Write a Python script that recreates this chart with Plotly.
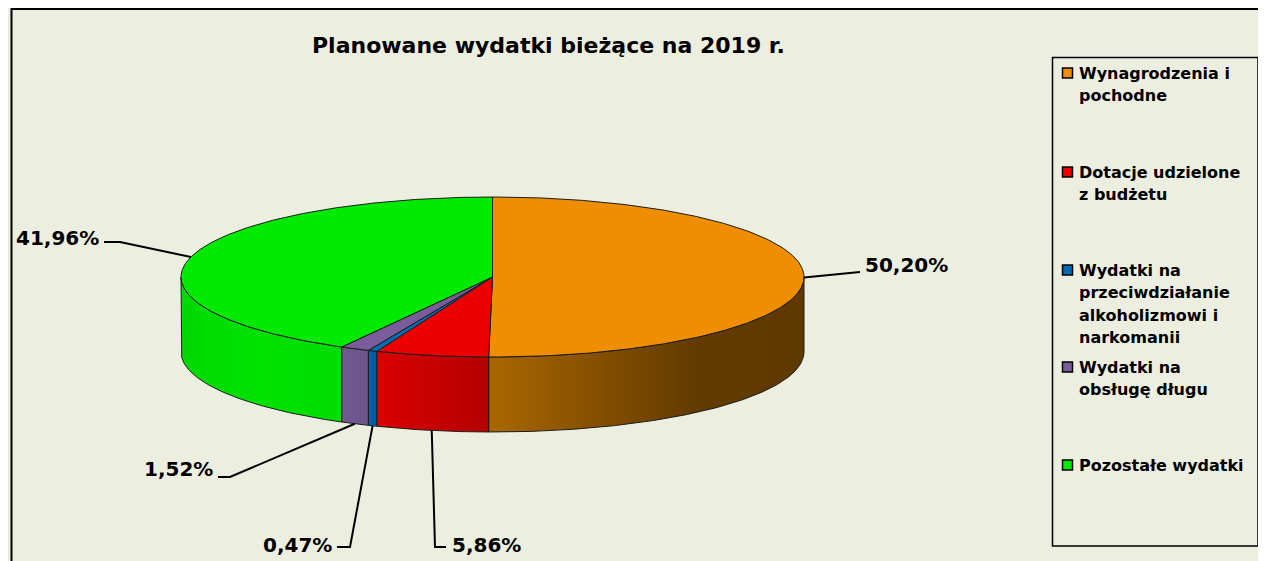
import numpy as np
import plotly.graph_objects as go

# ---------------- data ----------------
categories = [
    "Wynagrodzenia i pochodne",
    "Dotacje udzielone z budżetu",
    "Wydatki na przeciwdziałanie alkoholizmowi i narkomanii",
    "Wydatki na obsługę długu",
    "Pozostałe wydatki",
]
legend_lines = [
    ["Wynagrodzenia i", "pochodne"],
    ["Dotacje udzielone", "z budżetu"],
    ["Wydatki na", "przeciwdziałanie", "alkoholizmowi i", "narkomanii"],
    ["Wydatki na", "obsługę długu"],
    ["Pozostałe wydatki"],
]
shares = [50.20, 5.86, 0.47, 1.52, 41.96]
label_texts = ["50,20%", "5,86%", "0,47%", "1,52%", "41,96%"]
chart_title = "Planowane wydatki bieżące na 2019 r."

# ---------------- style / layout ----------------
W, H = 1266, 561
OFF = 8  # page body margin in the browser
BG = "#ECEEE0"
TOP_COLORS = ["#EE8E00", "#EE0000", "#006CB4", "#7A5C9A", "#00EA00"]
SIDE_SCALES = [
    [[0, "#AA6700"], [0.65, "#633B00"], [1, "#5E3900"]],
    [[0, "#DA0000"], [1, "#B40000"]],
    [[0, "#0060A8"], [1, "#005A9E"]],
    [[0, "#705A92"], [1, "#6A548A"]],
    [[0, "#00D800"], [0.5, "#00E200"], [1, "#00DC00"]],
]
EDGE = "#1c1c1c"
CX, CY, RX, RY, DEPTH = 492.5, 277, 311.5, 80, 75

# leader-line knee / end points and text anchors (layout positions)
KNEES = [(860, 272), (435, 547), (350, 547), (230, 477), (120, 242)]
ENDS = [(860, 272), (446, 547), (337, 547), (218, 477), (104, 242)]
TEXT_POS = [(863, 265, "left"), (450, 545, "left"), (334, 545, "right"),
            (215, 469, "right"), (101, 238, "right")]
LEGEND_Y = [73, 172, 270, 367, 465]
LEGEND_STEP = 22.5


def px(theta, dy=0.0):
    t = np.radians(theta)
    return CX + RX * np.sin(t), CY - RY * np.cos(t) + dy


def arc(a0, a1, dy=0.0):
    n = max(2, int(abs(a1 - a0) * 2) + 2)
    th = np.linspace(a0, a1, n)
    x, y = px(th, dy)
    return list(x), list(y)


total = sum(shares)
angles = np.concatenate([[0], np.cumsum(shares) / total * 360.0])

fig = go.Figure()

# side walls (only the front half is visible)
for i in range(len(shares)):
    a0, a1 = angles[i], angles[i + 1]
    s0, s1 = max(a0, 90.0), min(a1, 270.0)
    if s1 <= s0:
        continue
    tx, ty = arc(s0, s1)
    bx, by = arc(s1, s0, DEPTH)
    xs = tx + bx + [tx[0]]
    ys = ty + by + [ty[0]]
    fig.add_trace(go.Scatter(
        x=xs, y=ys, mode="lines", fill="toself",
        fillgradient=dict(type="horizontal", colorscale=SIDE_SCALES[i]),
        line=dict(color=EDGE, width=1), hoverinfo="skip", showlegend=False))

# top faces
for i in range(len(shares)):
    a0, a1 = angles[i], angles[i + 1]
    ax, ay = arc(a0, a1)
    xs = [CX] + ax + [CX]
    ys = [CY] + ay + [CY]
    fig.add_trace(go.Scatter(
        x=xs, y=ys, mode="lines", fill="toself", fillcolor=TOP_COLORS[i],
        line=dict(color=EDGE, width=1), name=categories[i],
        hoverinfo="name", showlegend=False))

# leader lines + labels
for i in range(len(shares)):
    mid = (angles[i] + angles[i + 1]) / 2.0
    c = np.cos(np.radians(mid))
    dy = DEPTH if c < -0.5 else 0.0
    sx, sy = px(mid, dy)
    (kx, ky), (ex, ey) = KNEES[i], ENDS[i]
    fig.add_trace(go.Scatter(
        x=[sx, kx, ex], y=[sy, ky, ey], mode="lines",
        line=dict(color="#000000", width=2), hoverinfo="skip", showlegend=False))
    tx, ty, anchor = TEXT_POS[i]
    fig.add_annotation(x=tx, y=ty, text=label_texts[i], showarrow=False,
                       xanchor=anchor, yanchor="middle",
                       font=dict(family="DejaVu Sans", size=20, color="#000000", weight="bold"))

# legend (custom)
fig.add_trace(go.Scatter(
    x=[1067.5] * len(shares), y=LEGEND_Y, mode="markers",
    marker=dict(symbol="square", size=10, color=TOP_COLORS,
                line=dict(color="#000000", width=1.5)),
    hoverinfo="skip", showlegend=False))
for i, lines in enumerate(legend_lines):
    for j, ln in enumerate(lines):
        fig.add_annotation(x=1077, y=LEGEND_Y[i] + j * LEGEND_STEP, text=ln,
                           showarrow=False, xanchor="left", yanchor="middle",
                           font=dict(family="DejaVu Sans", size=16, color="#000000", weight="bold"))

fig.add_annotation(x=548, y=45, text=chart_title, showarrow=False,
                   xanchor="center", yanchor="middle",
                   font=dict(family="DejaVu Sans", size=22, color="#000000", weight="bold"))

shapes = [
    dict(type="rect", xref="x", yref="y", x0=11.5, y0=OFF + 1, x1=W + 20, y1=H + 20,
         fillcolor="rgba(0,0,0,0)", line=dict(color="#000000", width=2)),
    dict(type="rect", xref="x", yref="y", x0=1052.5, y0=57.5, x1=1258, y1=546,
         fillcolor="rgba(0,0,0,0)", line=dict(color="#000000", width=1.5)),
]

fig.update_layout(
    width=W - OFF, height=H - OFF, margin=dict(l=0, r=0, t=0, b=0),
    paper_bgcolor=BG, plot_bgcolor=BG, shapes=shapes, showlegend=False,
    xaxis=dict(range=[OFF, W], visible=False, fixedrange=True),
    yaxis=dict(range=[H, OFF], visible=False, fixedrange=True),
)

fig.write_html("out.html")
